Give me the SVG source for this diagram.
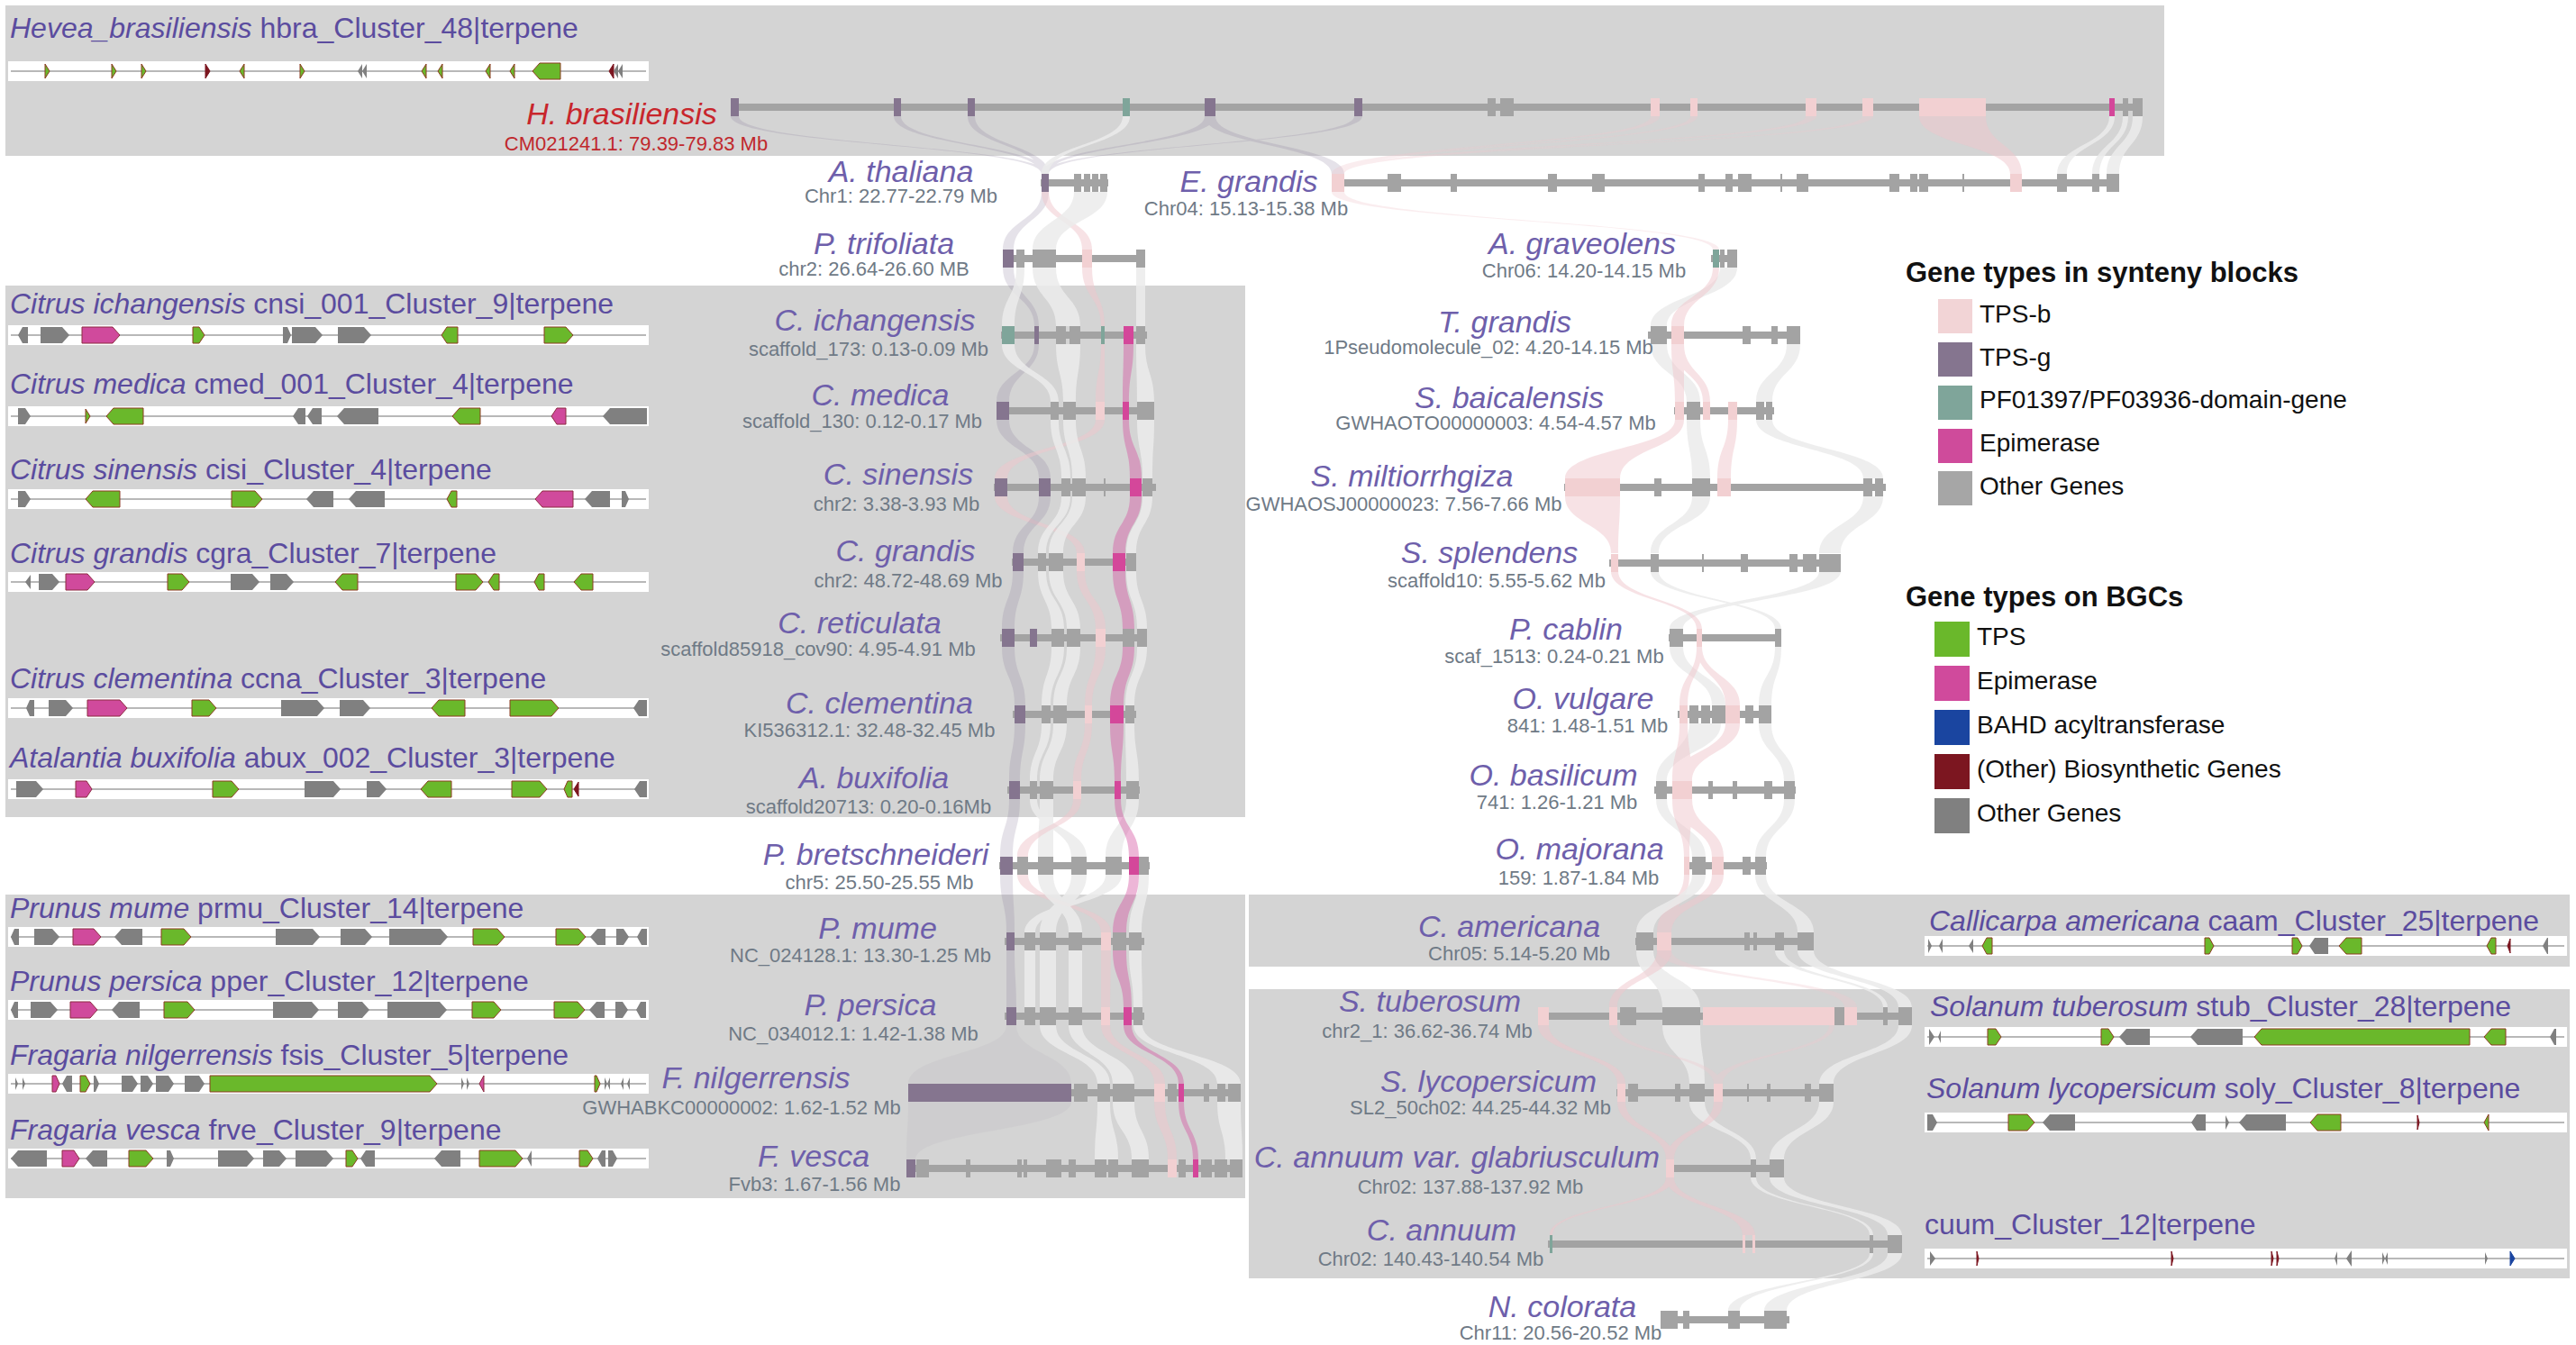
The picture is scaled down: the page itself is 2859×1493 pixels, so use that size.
<svg xmlns="http://www.w3.org/2000/svg" width="2859" height="1493" viewBox="0 0 2859 1493">
<style>
.bx{fill:#d4d4d4}
.st{fill:#fff}
.sl{stroke:#a0a0a0;stroke-width:1.5;fill:none}
.g{fill:#808080}
.t{fill:#6ab82b;stroke:#8c3b22;stroke-width:1}
.e{fill:#d04a9c;stroke:#8c2b40;stroke-width:1}
.b{fill:#7c1620;stroke:#7c1620;stroke-width:1}
.a{fill:#1a45a0;stroke:#1a45a0;stroke-width:1}
.tl{fill:#a3a3a3}
.k{fill:#f2d0d2}
.p{fill:#85758f}
.q{fill:#7fa59a}
.m{fill:#d4479a}
.rw{fill:#ebebeb;opacity:.85}
.rk{fill:#f0c6cc;opacity:.5}
.rkt{fill:#f0c6cc;opacity:.32}
.rp{fill:#8a7a9a;opacity:.22}
.rpf{fill:#8a7a9a;opacity:.08}
.rm{fill:#d4509f;opacity:.42}
text{font-family:"Liberation Sans",Arial,Helvetica,sans-serif}
.ti{font-size:32px;fill:#5b4c9f}
.sp{font-size:34px;font-style:italic;fill:#6e5fab;text-anchor:middle}
.spr{font-size:34px;font-style:italic;fill:#c8262c;text-anchor:middle}
.sb{font-size:22px;fill:#6f7a86;text-anchor:middle}
.sbr{font-size:22px;fill:#c0282d;text-anchor:middle}
.lh{font-size:31px;font-weight:bold;fill:#111}
.li{font-size:28px;fill:#111}
</style>
<rect width="2859" height="1493" fill="#fff"/>
<g id="backgrounds">
<rect class="bx" x="6" y="6" width="2396" height="167"/>
<rect class="bx" x="6" y="317" width="1376" height="590"/>
<rect class="bx" x="6" y="993" width="1376" height="337"/>
<rect class="bx" x="1386" y="993" width="1466" height="80"/>
<rect class="bx" x="1386" y="1098" width="1466" height="321"/>
</g>

<g id="bgc-hbra">
<text class="ti" x="11" y="42"><tspan font-style="italic">Hevea_brasiliensis</tspan> hbra_Cluster_48|terpene</text>
<g transform="translate(0,79)">
<rect class="st" x="9" y="-11" width="711" height="22"/><path class="sl" d="M12 0H717"/>
<path class="t" d="M50-8l5 8l-5 8z M124-8l5 8l-5 8z M157-8l5 8l-5 8z M271-8l-5 8l5 8z M333-8l5 8l-5 8z M473-8l-5 8l5 8z M491-8l-5 8l5 8z M544-8l-5 8l5 8z M571-8l-5 8l5 8z M622-9h-23l-8 9l8 9h23z"/>
<path class="b" d="M228-8l5 8l-5 8z M681-8l-5 8l5 8z"/>
<path class="g" d="M402-8l-5 8l5 8z M407-8l-5 8l5 8z M686-8l-5 8l5 8z M691-8l-5 8l5 8z"/>
</g></g>

<g id="bgc-cnsi">
<text class="ti" x="11" y="348"><tspan font-style="italic">Citrus ichangensis</tspan> cnsi_001_Cluster_9|terpene</text>
<g transform="translate(0,372)">
<rect class="st" x="9" y="-11" width="711" height="22"/><path class="sl" d="M12 0H717"/>
<path class="g" d="M31-9h-6l-5 9l5 9h6z M45-9h24l8 9l-8 9h-24z M314-9h5l4 9l-4 9h-5z M324-9h26l8 9l-8 9h-26z M375-9h29l8 9l-8 9h-29z"/>
<path class="e" d="M91-9h34l8 9l-8 9h-34z"/>
<path class="t" d="M214-9h7l6 9l-6 9h-7z M508-9h-12l-6 9l6 9h12z M604-9h24l8 9l-8 9h-24z"/>
</g></g>

<g id="bgc-cmed">
<text class="ti" x="11" y="437"><tspan font-style="italic">Citrus medica</tspan> cmed_001_Cluster_4|terpene</text>
<g transform="translate(0,462)">
<rect class="st" x="9" y="-11" width="711" height="22"/><path class="sl" d="M12 0H717"/>
<path class="g" d="M20-9h8l6 9l-6 9h-8z M339-9h-8l-6 9l6 9h8z M357-9h-10l-6 9l6 9h10z M420-9h-38l-8 9l8 9h38z M718-9h-41l-8 9l8 9h41z"/>
<path class="t" d="M95-8l5 8l-5 8z M159-9h-33l-8 9l8 9h33z M533-9h-23l-8 9l8 9h23z"/>
<path class="e" d="M628-9h-10l-6 9l6 9h10z"/>
</g></g>

<g id="bgc-cisi">
<text class="ti" x="11" y="532"><tspan font-style="italic">Citrus sinensis</tspan> cisi_Cluster_4|terpene</text>
<g transform="translate(0,554)">
<rect class="st" x="9" y="-11" width="711" height="22"/><path class="sl" d="M12 0H717"/>
<path class="g" d="M20-9h8l6 9l-6 9h-8z M370-9h-22l-8 9l8 9h22z M427-9h-32l-8 9l8 9h32z M677-9h-20l-8 9l8 9h20z M690-9h4l4 9l-4 9h-4z"/>
<path class="t" d="M133-9h-30l-8 9l8 9h30z M257-9h26l8 9l-8 9h-26z M507-9h-6l-5 9l5 9h6z"/>
<path class="e" d="M636-9h-34l-8 9l8 9h34z"/>
</g></g>

<g id="bgc-cgra">
<text class="ti" x="11" y="625"><tspan font-style="italic">Citrus grandis</tspan> cgra_Cluster_7|terpene</text>
<g transform="translate(0,646)">
<rect class="st" x="9" y="-11" width="711" height="22"/><path class="sl" d="M12 0H717"/>
<path class="g" d="M34-8l-6 8l6 8z M43-9h15l8 9l-8 9h-15z M256-9h24l8 9l-8 9h-24z M300-9h18l8 9l-8 9h-18z"/>
<path class="e" d="M73-9h24l8 9l-8 9h-24z"/>
<path class="t" d="M186-9h16l8 9l-8 9h-16z M397-9h-17l-8 9l8 9h17z M506-9h22l8 9l-8 9h-22z M554-9h-6l-6 9l6 9h6z M604-9h-6l-5 9l5 9h6z M658-9h-13l-8 9l8 9h13z"/>
</g></g>

<g id="bgc-ccna">
<text class="ti" x="11" y="764"><tspan font-style="italic">Citrus clementina</tspan> ccna_Cluster_3|terpene</text>
<g transform="translate(0,786)">
<rect class="st" x="9" y="-11" width="711" height="22"/><path class="sl" d="M12 0H717"/>
<path class="g" d="M38-9h-5l-4 9l4 9h5z M54-9h19l8 9l-8 9h-19z M312-9h40l8 9l-8 9h-40z M377-9h26l8 9l-8 9h-26z M718-9h-9l-6 9l6 9h9z"/>
<path class="e" d="M97-9h36l8 9l-8 9h-36z"/>
<path class="t" d="M213-9h19l8 9l-8 9h-19z M516-9h-29l-8 9l8 9h29z M566-9h46l8 9l-8 9h-46z"/>
</g></g>

<g id="bgc-abux">
<text class="ti" x="11" y="852"><tspan font-style="italic">Atalantia buxifolia</tspan> abux_002_Cluster_3|terpene</text>
<g transform="translate(0,876)">
<rect class="st" x="9" y="-11" width="711" height="22"/><path class="sl" d="M12 0H717"/>
<path class="g" d="M18-9h22l8 9l-8 9h-22z M338-9h32l8 9l-8 9h-32z M407-9h14l8 9l-8 9h-14z M718-9h-8l-6 9l6 9h8z"/>
<path class="e" d="M84-9h12l6 9l-6 9h-12z"/>
<path class="t" d="M236-9h21l8 9l-8 9h-21z M501-9h-26l-8 9l8 9h26z M568-9h31l8 9l-8 9h-31z M635-9h-5l-4 9l4 9h5z"/>
<path class="b" d="M642-8l-5 8l5 8z"/>
</g></g>

<g id="bgc-prmu">
<text class="ti" x="11" y="1019"><tspan font-style="italic">Prunus mume</tspan> prmu_Cluster_14|terpene</text>
<g transform="translate(0,1040)">
<rect class="st" x="9" y="-11" width="711" height="22"/><path class="sl" d="M12 0H717"/>
<path class="g" d="M21-9h-5l-4 9l4 9h5z M38-9h20l8 9l-8 9h-20z M158-9h-23l-8 9l8 9h23z M306-9h41l8 9l-8 9h-41z M378-9h27l8 9l-8 9h-27z M432-9h57l8 9l-8 9h-57z M672-9h-9l-8 9l8 9h9z M684-9h8l6 9l-6 9h-8z M718-9h-6l-5 9l5 9h6z"/>
<path class="e" d="M81-9h23l8 9l-8 9h-23z"/>
<path class="t" d="M179-9h25l8 9l-8 9h-25z M525-9h27l8 9l-8 9h-27z M617-9h25l8 9l-8 9h-25z"/>
</g></g>

<g id="bgc-pper">
<text class="ti" x="11" y="1100"><tspan font-style="italic">Prunus persica</tspan> pper_Cluster_12|terpene</text>
<g transform="translate(0,1121)">
<rect class="st" x="9" y="-11" width="711" height="22"/><path class="sl" d="M12 0H717"/>
<path class="g" d="M20-9h-4l-4 9l4 9h4z M34-9h22l8 9l-8 9h-22z M155-9h-23l-8 9l8 9h23z M303-9h43l8 9l-8 9h-43z M375-9h27l8 9l-8 9h-27z M430-9h58l8 9l-8 9h-58z M671-9h-9l-8 9l8 9h9z M683-9h8l6 9l-6 9h-8z M717-9h-6l-5 9l5 9h6z"/>
<path class="e" d="M78-9h22l8 9l-8 9h-22z"/>
<path class="t" d="M182-9h26l8 9l-8 9h-26z M524-9h24l8 9l-8 9h-24z M615-9h26l8 9l-8 9h-26z"/>
</g></g>

<g id="bgc-fsis">
<text class="ti" x="11" y="1182"><tspan font-style="italic">Fragaria nilgerrensis</tspan> fsis_Cluster_5|terpene</text>
<g transform="translate(0,1203)">
<rect class="st" x="9" y="-11" width="711" height="22"/><path class="sl" d="M12 0H717"/>
<path class="g" d="M17-7l3 7l-3 7z M25-7l3 7l-3 7z M80-9h-6l-5 9l5 9h6z M104-9h2l4 9l-4 9h-2z M135-9h12l6 9l-6 9h-12z M156-9h8l6 9l-6 9h-8z M173-9h14l6 9l-6 9h-14z M205-9h16l6 9l-6 9h-16z M512-7l3 7l-3 7z M518-7l3 7l-3 7z M671-7l3 7l-3 7z M677-7l-3 7l3 7z M692-7l-3 7l3 7z M699-7l-3 7l3 7z"/>
<path class="e" d="M58-9h4l4 9l-4 9h-4z M537-9l-5 9l5 9z"/>
<path class="t" d="M89-9h6l5 9l-5 9h-6z M233-9h244l8 9l-8 9h-244z M660-9h2l4 9l-4 9h-2z"/>
</g></g>

<g id="bgc-frve">
<text class="ti" x="11" y="1265"><tspan font-style="italic">Fragaria vesca</tspan> frve_Cluster_9|terpene</text>
<g transform="translate(0,1286)">
<rect class="st" x="9" y="-11" width="711" height="22"/><path class="sl" d="M12 0H717"/>
<path class="g" d="M52-9h-32l-8 9l8 9h32z M119-9h-16l-8 9l8 9h16z M185-9h4l4 9l-4 9h-4z M242-9h32l8 9l-8 9h-32z M292-9h18l8 9l-8 9h-18z M328-9h34l8 9l-8 9h-34z M416-9h-10l-6 9l6 9h10z M511-9h-21l-8 9l8 9h21z M590-9l-5 9l5 9z M672-9h-4l-5 9l5 9h4z M675-9h5l5 9l-5 9h-5z"/>
<path class="e" d="M69-9h13l6 9l-6 9h-13z"/>
<path class="t" d="M143-9h19l8 9l-8 9h-19z M384-9h7l6 9l-6 9h-7z M532-9h40l8 9l-8 9h-40z M643-9h9l6 9l-6 9h-9z"/>
</g></g>

<g id="bgc-caam">
<text class="ti" x="2141" y="1033"><tspan font-style="italic">Callicarpa americana</tspan> caam_Cluster_25|terpene</text>
<g transform="translate(0,1050)">
<rect class="st" x="2136" y="-11" width="713" height="22"/><path class="sl" d="M2139 0H2846"/>
<path class="g" d="M2140-8l4 8l-4 8z M2156-8l-4 8l4 8z M2190-8l-5 8l5 8z M2584-9h-15l-6 9l6 9h15z M2828-9h-1l-5 9l5 9h1z"/>
<path class="t" d="M2211-9h-6l-5 9l5 9h6z M2447-9h5l5 9l-5 9h-5z M2544-9h6l5 9l-5 9h-6z M2621-9h-17l-8 9l8 9h17z M2770-9h-5l-5 9l5 9h5z"/>
<path class="b" d="M2786-8l-3 8l3 8z"/>
</g></g>

<g id="bgc-stub">
<text class="ti" x="2142" y="1128"><tspan font-style="italic">Solanum tuberosum</tspan> stub_Cluster_28|terpene</text>
<g transform="translate(0,1151)">
<rect class="st" x="2136" y="-11" width="713" height="22"/><path class="sl" d="M2139 0H2846"/>
<path class="g" d="M2141-9l6 9l-6 9z M2154-7l-3 7l3 7z M2386-9h-26l-8 9l8 9h26z M2489-9h-50l-8 9l8 9h50z M2837-9h-2l-5 9l5 9h2z"/>
<path class="t" d="M2206-9h9l6 9l-6 9h-9z M2332-9h8l6 9l-6 9h-8z M2741-9h-231l-8 9l8 9h231z M2781-9h-16l-8 9l8 9h16z"/>
</g></g>

<g id="bgc-soly">
<text class="ti" x="2138" y="1219"><tspan font-style="italic">Solanum lycopersicum</tspan> soly_Cluster_8|terpene</text>
<g transform="translate(0,1246)">
<rect class="st" x="2136" y="-11" width="713" height="22"/><path class="sl" d="M2139 0H2846"/>
<path class="g" d="M2139-9h6l5 9l-5 9h-6z M2303-9h-28l-8 9l8 9h28z M2448-9h-10l-6 9l6 9h10z M2470-8l4 8l-4 8z M2537-9h-44l-8 9l8 9h44z"/>
<path class="t" d="M2229-9h21l8 9l-8 9h-21z M2598-9h-26l-8 9l8 9h26z M2762-9l-5 9l5 9z"/>
<path class="b" d="M2683-8l2 8l-2 8z"/>
</g></g>

<g id="bgc-cuum">
<text class="ti" x="2136" y="1370">cuum_Cluster_12|terpene</text>
<g transform="translate(0,1397)">
<rect class="st" x="2136" y="-11" width="713" height="22"/><path class="sl" d="M2139 0H2846"/>
<path class="g" d="M2142-8l6 8l-6 8z M2594-8l-3 8l3 8z M2610-9l-6 9l6 9z M2644-7l3 7l-3 7z M2650-7l-3 7l3 7z M2758-7l3 7l-3 7z"/>
<path class="b" d="M2194-8l2 8l-2 8z M2410-8l2 8l-2 8z M2521-8l2 8l-2 8z M2527-8l2 8l-2 8z"/>
<path class="a" d="M2786-8l5 8l-5 8z"/>
</g></g>

<g id="connectors">
<path class="rp" d="M811,129 C811,161 1156,161 1156,193 L1164,193 C1164,161 820,161 820,129Z M992,129 C992,161 1156,161 1156,193 L1164,193 C1164,161 1000,161 1000,129Z M1074,129 C1074,161 1156,161 1156,193 L1164,193 C1164,161 1082,161 1082,129Z M1337,129 C1337,161 1156,161 1156,193 L1164,193 C1164,161 1349,161 1349,129Z M1503,129 C1503,161 1156,161 1156,193 L1164,193 C1164,161 1512,161 1512,129Z M1337,129 C1337,161 1478,161 1478,193 L1492,193 C1492,161 1349,161 1349,129Z"/>
<path class="rw" d="M1246,129 C1246,161 1156,161 1156,193 L1164,193 C1164,161 1254,161 1254,129Z M2341,129 C2341,161 2283,161 2283,193 L2294,193 C2294,161 2347,161 2347,129Z M2356,129 C2356,161 2322,161 2322,193 L2330,193 C2330,161 2362,161 2362,129Z M2367,129 C2367,161 2338,161 2338,193 L2352,193 C2352,161 2378,161 2378,129Z"/>
<path class="rkt" d="M1832,129 C1832,161 1478,161 1478,193 L1492,193 C1492,161 1842,161 1842,129Z M1876,129 C1876,161 1478,161 1478,193 L1492,193 C1492,161 1884,161 1884,129Z M2004,129 C2004,161 1478,161 1478,193 L1492,193 C1492,161 2016,161 2016,129Z M2067,129 C2067,161 1478,161 1478,193 L1492,193 C1492,161 2079,161 2079,129Z"/>
<path class="rk" d="M2130,129 C2130,161 2231,161 2231,193 L2244,193 C2244,161 2204,161 2204,129Z"/>

<path class="rp" d="M1156,213 C1156,245 1113,245 1113,277 L1125,277 C1125,245 1164,245 1164,213Z"/>
<path class="rk" d="M1156,213 C1156,245 1201,245 1201,277 L1212,277 C1212,245 1164,245 1164,213Z"/>
<path class="rw" d="M1192,213 C1192,245 1146,245 1146,277 L1172,277 C1172,245 1229,245 1229,213Z"/>
<path class="rkt" d="M1478,213 C1478,245 1901,245 1901,277 L1908,277 C1908,245 1492,245 1492,213Z"/>

<path class="rp" d="M1113,297 C1113,330 1148,330 1148,362 L1153,362 C1153,330 1125,330 1125,297Z"/>
<path class="rw" d="M1128,297 C1128,330 1112,330 1112,362 L1126,362 C1126,330 1137,330 1137,297Z M1146,297 C1146,330 1172,330 1172,362 L1199,362 C1199,330 1172,330 1172,297Z M1261,297 L1261,362 L1271,362 L1271,297Z M1909,297 C1909,330 1832,330 1832,362 L1850,362 C1850,330 1928,330 1928,297Z"/>
<path class="rk" d="M1201,297 C1201,330 1222,330 1222,362 L1226,362 C1226,330 1212,330 1212,297Z M1901,297 C1901,330 1855,330 1855,362 L1869,362 C1869,330 1908,330 1908,297Z"/>

<path class="rp" d="M1148,382 C1148,414 1106,414 1106,446 L1120,446 C1120,414 1153,414 1153,382Z"/>
<path class="rw" d="M1112,382 C1112,414 1166,414 1166,446 L1175,446 C1175,414 1126,414 1126,382Z M1172,382 C1172,414 1180,414 1180,446 L1194,446 C1194,414 1199,414 1199,382Z M1261,382 C1261,414 1262,414 1262,446 L1281,446 C1281,414 1271,414 1271,382Z M1832,382 C1832,414 1872,414 1872,446 L1887,446 C1887,414 1850,414 1850,382Z M1983,382 C1983,414 1949,414 1949,446 L1967,446 C1967,414 1998,414 1998,382Z"/>
<path class="rk" d="M1222,382 C1222,414 1216,414 1216,446 L1226,446 C1226,414 1226,414 1226,382Z M1855,382 C1855,414 1859,414 1859,446 L1869,446 C1869,414 1869,414 1869,382Z M1855,382 C1855,414 1890,414 1890,446 L1898,446 C1898,414 1869,414 1869,382Z"/>
<path class="rm" d="M1247,382 C1247,414 1246,414 1246,446 L1253,446 C1253,414 1258,414 1258,382Z"/>

<path class="rp" d="M1106,466 C1106,498 1153,498 1153,531 L1166,531 C1166,498 1120,498 1120,466Z"/>
<path class="rk" d="M1216,466 C1216,498 1104,498 1104,531 L1118,531 C1118,498 1226,498 1226,466Z M1859,466 C1859,498 1737,498 1737,531 L1798,531 C1798,498 1869,498 1869,466Z M1918,466 C1918,498 1906,498 1906,531 L1921,531 C1921,498 1928,498 1928,466Z"/>
<path class="rw" d="M1166,466 C1166,498 1178,498 1178,531 L1188,531 C1188,498 1175,498 1175,466Z M1180,466 C1180,498 1190,498 1190,531 L1205,531 C1205,498 1194,498 1194,466Z M1262,466 C1262,498 1268,498 1268,531 L1279,531 C1279,498 1281,498 1281,466Z M1872,466 C1872,498 1878,498 1878,531 L1898,531 C1898,498 1887,498 1887,466Z M1949,466 C1949,498 2068,498 2068,531 L2090,531 C2090,498 1967,498 1967,466Z"/>
<path class="rm" d="M1246,466 C1246,498 1254,498 1254,531 L1267,531 C1267,498 1253,498 1253,466Z"/>

<path class="rk" d="M1104,551 C1104,582 1195,582 1195,614 L1204,614 C1204,582 1118,582 1118,551Z M1737,551 C1737,582 1788,582 1788,614 L1796,614 C1796,582 1798,582 1798,551Z"/>
<path class="rp" d="M1153,551 C1153,582 1124,582 1124,614 L1136,614 C1136,582 1166,582 1166,551Z"/>
<path class="rw" d="M1178,551 C1178,582 1152,582 1152,614 L1161,614 C1161,582 1188,582 1188,551Z M1190,551 C1190,582 1164,582 1164,614 L1180,614 C1180,582 1205,582 1205,551Z M1268,551 C1268,582 1250,582 1250,614 L1261,614 C1261,582 1279,582 1279,551Z M1878,551 C1878,582 1832,582 1832,614 L1841,614 C1841,582 1898,582 1898,551Z M2068,551 C2068,582 2019,582 2019,614 L2043,614 C2043,582 2090,582 2090,551Z"/>
<path class="rm" d="M1254,551 C1254,582 1235,582 1235,614 L1249,614 C1249,582 1267,582 1267,551Z"/>

<path class="rp" d="M1124,634 C1124,666 1112,666 1112,698 L1126,698 C1126,666 1136,666 1136,634Z"/>
<path class="rw" d="M1152,634 C1152,666 1167,666 1167,698 L1181,698 C1181,666 1161,666 1161,634Z M1164,634 C1164,666 1184,666 1184,698 L1199,698 C1199,666 1180,666 1180,634Z M1250,634 C1250,666 1262,666 1262,698 L1273,698 C1273,666 1261,666 1261,634Z M1832,634 C1832,666 1970,666 1970,698 L1977,698 C1977,666 1841,666 1841,634Z M2019,634 C2019,666 1853,666 1853,698 L1868,698 C1868,666 2043,666 2043,634Z"/>
<path class="rk" d="M1195,634 C1195,666 1216,666 1216,698 L1227,698 C1227,666 1204,666 1204,634Z M1788,634 C1788,666 1883,666 1883,698 L1889,698 C1889,666 1796,666 1796,634Z"/>
<path class="rm" d="M1235,634 C1235,666 1246,666 1246,698 L1259,698 C1259,666 1249,666 1249,634Z"/>

<path class="rp" d="M1112,718 C1112,750 1126,750 1126,783 L1138,783 C1138,750 1126,750 1126,718Z"/>
<path class="rw" d="M1167,718 C1167,750 1156,750 1156,783 L1166,783 C1166,750 1181,750 1181,718Z M1184,718 C1184,750 1169,750 1169,783 L1184,783 C1184,750 1199,750 1199,718Z M1262,718 C1262,750 1249,750 1249,783 L1259,783 C1259,750 1273,750 1273,718Z M1853,718 C1853,750 1900,750 1900,783 L1915,783 C1915,750 1868,750 1868,718Z M1970,718 C1970,750 1952,750 1952,783 L1966,783 C1966,750 1977,750 1977,718Z"/>
<path class="rk" d="M1216,718 C1216,750 1204,750 1204,783 L1212,783 C1212,750 1227,750 1227,718Z M1883,718 C1883,750 1864,750 1864,783 L1873,783 C1873,750 1889,750 1889,718Z M1883,718 C1883,750 1915,750 1915,783 L1931,783 C1931,750 1889,750 1889,718Z"/>
<path class="rm" d="M1246,718 C1246,750 1232,750 1232,783 L1247,783 C1247,750 1259,750 1259,718Z"/>

<path class="rp" d="M1126,803 C1126,835 1120,835 1120,867 L1132,867 C1132,835 1138,835 1138,803Z"/>
<path class="rw" d="M1156,803 C1156,835 1143,835 1143,867 L1151,867 C1151,835 1166,835 1166,803Z M1169,803 C1169,835 1154,835 1154,867 L1169,867 C1169,835 1184,835 1184,803Z M1249,803 C1249,835 1250,835 1250,867 L1264,867 C1264,835 1259,835 1259,803Z M1875,803 C1875,835 1838,835 1838,867 L1850,867 C1850,835 1910,835 1910,803Z M1952,803 C1952,835 1980,835 1980,867 L1992,867 C1992,835 1966,835 1966,803Z"/>
<path class="rk" d="M1204,803 C1204,835 1191,835 1191,867 L1200,867 C1200,835 1212,835 1212,803Z M1864,803 C1864,835 1856,835 1856,867 L1878,867 C1878,835 1873,835 1873,803Z M1915,803 C1915,835 1856,835 1856,867 L1878,867 C1878,835 1931,835 1931,803Z"/>
<path class="rm" d="M1232,803 C1232,835 1237,835 1237,867 L1244,867 C1244,835 1247,835 1247,803Z"/>

<path class="rp" d="M1120,887 C1120,919 1110,919 1110,951 L1124,951 C1124,919 1132,919 1132,887Z"/>
<path class="rw" d="M1143,887 C1143,919 1189,919 1189,951 L1206,951 C1206,919 1151,919 1151,887Z M1154,887 C1154,919 1152,919 1152,951 L1169,951 C1169,919 1169,919 1169,887Z M1250,887 C1250,919 1227,919 1227,951 L1245,951 C1245,919 1264,919 1264,887Z M1838,887 C1838,919 1878,919 1878,951 L1893,951 C1893,919 1850,919 1850,887Z M1980,887 C1980,919 1948,919 1948,951 L1960,951 C1960,919 1992,919 1992,887Z"/>
<path class="rk" d="M1191,887 C1191,919 1129,919 1129,951 L1141,951 C1141,919 1200,919 1200,887Z M1856,887 C1856,919 1900,919 1900,951 L1913,951 C1913,919 1878,919 1878,887Z M1856,887 C1856,919 1869,919 1869,951 L1875,951 C1875,919 1878,919 1878,887Z"/>
<path class="rm" d="M1237,887 C1237,919 1253,919 1253,951 L1264,951 C1264,919 1244,919 1244,887Z"/>

<path class="rp" d="M1110,971 C1110,1003 1117,1003 1117,1035 L1126,1035 C1126,1003 1124,1003 1124,971Z"/>
<path class="rk" d="M1129,971 C1129,1003 1222,1003 1222,1035 L1233,1035 C1233,1003 1141,1003 1141,971Z M1900,971 C1900,1003 1839,1003 1839,1035 L1855,1035 C1855,1003 1913,1003 1913,971Z M1869,971 C1869,1003 1839,1003 1839,1035 L1855,1035 C1855,1003 1875,1003 1875,971Z"/>
<path class="rw" d="M1152,971 C1152,1003 1186,1003 1186,1035 L1201,1035 C1201,1003 1169,1003 1169,971Z M1189,971 C1189,1003 1154,1003 1154,1035 L1172,1035 C1172,1003 1206,1003 1206,971Z M1227,971 C1227,1003 1137,1003 1137,1035 L1149,1035 C1149,1003 1245,1003 1245,971Z M1264,971 C1264,1003 1253,1003 1253,1035 L1267,1035 C1267,1003 1275,1003 1275,971Z M1878,971 C1878,1003 1816,1003 1816,1035 L1835,1035 C1835,1003 1893,1003 1893,971Z M1948,971 C1948,1003 1995,1003 1995,1035 L2013,1035 C2013,1003 1960,1003 1960,971Z"/>
<path class="rm" d="M1253,971 C1253,1003 1235,1003 1235,1035 L1250,1035 C1250,1003 1264,1003 1264,971Z"/>

<path class="rp" d="M1117,1055 L1117,1118 L1128,1118 C1128,1086 1126,1086 1126,1055Z"/>
<path class="rw" d="M1137,1055 L1137,1118 L1149,1118 L1149,1055Z M1154,1055 L1154,1118 L1172,1118 L1172,1055Z M1186,1055 L1186,1118 L1201,1118 L1201,1055Z M1253,1055 C1253,1086 1258,1086 1258,1118 L1268,1118 C1268,1086 1267,1086 1267,1055Z M1816,1055 C1816,1086 1845,1086 1845,1118 L1887,1118 C1887,1086 1835,1086 1835,1055Z M1995,1055 C1995,1086 2107,1086 2107,1118 L2122,1118 C2122,1086 2013,1086 2013,1055Z M1970,1055 C1970,1086 2090,1086 2090,1118 L2095,1118 C2095,1086 1980,1086 1980,1055Z"/>
<path class="rk" d="M1222,1055 L1222,1118 L1232,1118 L1233,1055Z M1839,1055 C1839,1086 1786,1086 1786,1118 L1795,1118 C1795,1086 1855,1086 1855,1055Z"/>
<path class="rkt" d="M1839,1055 C1839,1086 2047,1086 2047,1118 L2061,1118 C2061,1086 1855,1086 1855,1055Z"/>
<path class="rm" d="M1235,1055 C1235,1086 1247,1086 1247,1118 L1256,1118 C1256,1086 1250,1086 1250,1055Z"/>

<path class="rpf" d="M1117,1138 C1117,1170 1008,1170 1008,1203 L1189,1203 C1189,1170 1128,1170 1128,1138Z"/>
<path class="rw" d="M1154,1138 C1154,1170 1218,1170 1218,1203 L1232,1203 C1232,1170 1172,1170 1172,1138Z M1186,1138 C1186,1170 1235,1170 1235,1203 L1259,1203 C1259,1170 1201,1170 1201,1138Z M1258,1138 C1258,1170 1351,1170 1351,1203 L1377,1203 C1377,1170 1268,1170 1268,1138Z M1845,1138 C1845,1170 1875,1170 1875,1203 L1892,1203 C1892,1170 1887,1170 1887,1138Z M2107,1138 C2107,1170 2019,1170 2019,1203 L2035,1203 C2035,1170 2122,1170 2122,1138Z"/>
<path class="rk" d="M1222,1138 C1222,1170 1281,1170 1281,1203 L1293,1203 C1293,1170 1232,1170 1232,1138Z M1707,1138 C1707,1170 1795,1170 1795,1203 L1804,1203 C1804,1170 1719,1170 1719,1138Z"/>
<path class="rkt" d="M2030,1138 C2030,1170 1902,1170 1902,1203 L1912,1203 C1912,1170 2036,1170 2036,1138Z M1786,1138 C1786,1170 1902,1170 1902,1203 L1910,1203 C1910,1170 1795,1170 1795,1138Z"/>
<path class="rm" d="M1247,1138 C1247,1170 1308,1170 1308,1203 L1314,1203 C1314,1170 1256,1170 1256,1138Z"/>

<path class="rpf" d="M1008,1223 C1008,1255 1006,1255 1006,1287 L1016,1287 C1016,1255 1189,1255 1189,1223Z"/>
<path class="rw" d="M1218,1223 C1218,1255 1215,1255 1215,1287 L1241,1287 C1241,1255 1232,1255 1232,1223Z M1235,1223 C1235,1255 1256,1255 1256,1287 L1275,1287 C1275,1255 1259,1255 1259,1223Z M1351,1223 C1351,1255 1360,1255 1360,1287 L1379,1287 C1379,1255 1377,1255 1377,1223Z M1875,1223 C1875,1255 1943,1255 1943,1287 L1949,1287 C1949,1255 1892,1255 1892,1223Z M2019,1223 C2019,1255 1964,1255 1964,1287 L1980,1287 C1980,1255 2035,1255 2035,1223Z"/>
<path class="rk" d="M1281,1223 C1281,1255 1296,1255 1296,1287 L1306,1287 C1306,1255 1293,1255 1293,1223Z M1795,1223 C1795,1255 1849,1255 1849,1287 L1858,1287 C1858,1255 1804,1255 1804,1223Z M1902,1223 C1902,1255 1849,1255 1849,1287 L1858,1287 C1858,1255 1912,1255 1912,1223Z"/>
<path class="rm" d="M1308,1223 C1308,1255 1324,1255 1324,1287 L1330,1287 C1330,1255 1314,1255 1314,1223Z"/>

<path class="rk" d="M1849,1307 C1849,1339 1720,1339 1720,1371 L1723,1371 C1723,1339 1858,1339 1858,1307Z M1849,1307 C1849,1339 1934,1339 1934,1371 L1948,1371 C1948,1339 1858,1339 1858,1307Z"/>
<path class="rw" d="M1964,1307 C1964,1339 2095,1339 2095,1371 L2111,1371 C2111,1339 1980,1339 1980,1307Z M1943,1307 C1943,1339 2075,1339 2075,1371 L2079,1371 C2079,1339 1949,1339 1949,1307Z M2095,1391 C2095,1423 1958,1423 1958,1455 L1983,1455 C1983,1423 2111,1423 2111,1391Z M2075,1391 C2075,1423 1918,1423 1918,1455 L1931,1455 C1931,1423 2079,1423 2079,1391Z"/>
</g>

<g id="trk-hbra" transform="translate(0,119)">
<path class="tl" d="M811-4h1567v8h-1567z"/>
<path class="p" d="M811-10h9v20h-9z M992-10h8v20h-8z M1074-10h8v20h-8z M1337-10h12v20h-12z M1503-10h9v20h-9z"/>
<path class="q" d="M1246-10h8v20h-8z"/>
<path class="tl" d="M1651-10h9v20h-9z M1665-10h15v20h-15z M2356-10h6v20h-6z M2367-10h11v20h-11z"/>
<path class="k" d="M1832-10h10v20h-10z M1876-10h8v20h-8z M2004-10h12v20h-12z M2067-10h12v20h-12z M2130-10h74v20h-74z"/>
<path class="m" d="M2341-10h6v20h-6z"/>
</g>
<g id="trk-athal" transform="translate(0,203)">
<path class="tl" d="M1155-4h75v8h-75z M1192-10h8v20h-8z M1203-10h7v20h-7z M1212-10h7v20h-7z M1221-10h8v20h-8z"/>
<path class="p" d="M1156-10h8v20h-8z"/>
</g>
<g id="trk-egra" transform="translate(0,203)">
<path class="tl" d="M1478-4h874v8h-874z M1540-10h15v20h-15z M1610-10h7v20h-7z M1718-10h10v20h-10z M1767-10h14v20h-14z M1885-10h7v20h-7z M1915-10h8v20h-8z M1929-10h15v20h-15z M1976-10h2v20h-2z M1994-10h13v20h-13z M2097-10h11v20h-11z M2120-10h8v20h-8z M2130-10h10v20h-10z M2178-10h2v20h-2z M2283-10h11v20h-11z M2322-10h8v20h-8z M2338-10h14v20h-14z"/>
<path class="k" d="M1478-10h14v20h-14z M2231-10h13v20h-13z"/>
</g>
<g id="trk-ptri" transform="translate(0,287)">
<path class="tl" d="M1113-4h158v8h-158z M1128-10h9v20h-9z M1146-10h26v20h-26z M1261-10h10v20h-10z"/>
<path class="p" d="M1113-10h12v20h-12z"/><path class="k" d="M1201-10h11v20h-11z"/>
</g>
<g id="trk-cich" transform="translate(0,372)">
<path class="tl" d="M1111-4h162v8h-162z M1172-10h11v20h-11z M1187-10h12v20h-12z M1261-10h10v20h-10z"/>
<path class="q" d="M1112-10h14v20h-14z M1222-10h4v20h-4z"/><path class="p" d="M1148-10h5v20h-5z"/><path class="m" d="M1247-10h11v20h-11z"/>
</g>
<g id="trk-cmed" transform="translate(0,456)">
<path class="tl" d="M1106-4h175v8h-175z M1166-10h9v20h-9z M1180-10h14v20h-14z M1262-10h19v20h-19z"/>
<path class="p" d="M1106-10h14v20h-14z"/><path class="k" d="M1216-10h10v20h-10z"/><path class="m" d="M1246-10h7v20h-7z"/>
</g>
<g id="trk-csin" transform="translate(0,541)">
<path class="tl" d="M1103-4h180v8h-180z M1178-10h10v20h-10z M1190-10h15v20h-15z M1225-10h2v20h-2z M1268-10h11v20h-11z"/>
<path class="p" d="M1104-10h14v20h-14z M1153-10h13v20h-13z"/><path class="m" d="M1254-10h13v20h-13z"/>
</g>
<g id="trk-cgra" transform="translate(0,624)">
<path class="tl" d="M1123-4h138v8h-138z M1152-10h9v20h-9z M1164-10h16v20h-16z M1250-10h11v20h-11z"/>
<path class="p" d="M1124-10h12v20h-12z"/><path class="k" d="M1195-10h9v20h-9z"/><path class="m" d="M1235-10h14v20h-14z"/>
</g>
<g id="trk-cret" transform="translate(0,708)">
<path class="tl" d="M1110-4h163v8h-163z M1167-10h14v20h-14z M1184-10h15v20h-15z M1246-10h13v20h-13z M1262-10h11v20h-11z"/>
<path class="p" d="M1112-10h14v20h-14z M1143-10h8v20h-8z"/><path class="k" d="M1216-10h11v20h-11z"/>
</g>
<g id="trk-ccle" transform="translate(0,793)">
<path class="tl" d="M1124-4h137v8h-137z M1156-10h10v20h-10z M1169-10h15v20h-15z M1249-10h10v20h-10z"/>
<path class="p" d="M1126-10h12v20h-12z"/><path class="k" d="M1204-10h8v20h-8z"/><path class="m" d="M1232-10h15v20h-15z"/>
</g>
<g id="trk-abux" transform="translate(0,877)">
<path class="tl" d="M1118-4h147v8h-147z M1143-10h8v20h-8z M1154-10h15v20h-15z M1250-10h14v20h-14z"/>
<path class="p" d="M1120-10h12v20h-12z"/><path class="k" d="M1191-10h9v20h-9z"/><path class="m" d="M1237-10h7v20h-7z"/>
</g>
<g id="trk-pbre" transform="translate(0,961)">
<path class="tl" d="M1109-4h167v8h-167z M1129-10h12v20h-12z M1152-10h17v20h-17z M1189-10h17v20h-17z M1227-10h18v20h-18z M1264-10h11v20h-11z"/>
<path class="p" d="M1110-10h14v20h-14z"/><path class="m" d="M1253-10h11v20h-11z"/>
</g>
<g id="trk-pmum" transform="translate(0,1045)">
<path class="tl" d="M1115-4h155v8h-155z M1137-10h12v20h-12z M1154-10h18v20h-18z M1186-10h15v20h-15z M1235-10h15v20h-15z M1253-10h14v20h-14z"/>
<path class="p" d="M1117-10h9v20h-9z"/><path class="k" d="M1222-10h11v20h-11z"/>
</g>
<g id="trk-pper" transform="translate(0,1128)">
<path class="tl" d="M1115-4h155v8h-155z M1137-10h12v20h-12z M1154-10h18v20h-18z M1186-10h15v20h-15z M1258-10h10v20h-10z"/>
<path class="p" d="M1117-10h11v20h-11z"/><path class="k" d="M1222-10h10v20h-10z"/><path class="m" d="M1247-10h9v20h-9z"/>
</g>
<g id="trk-fnil" transform="translate(0,1213)">
<path class="tl" d="M1008-4h369v8h-369z M1192-10h15v20h-15z M1218-10h14v20h-14z M1235-10h24v20h-24z M1296-10h10v20h-10z M1336-10h6v20h-6z M1351-10h9v20h-9z M1363-10h14v20h-14z"/>
<path class="p" d="M1008-10h181v20h-181z"/><path class="k" d="M1281-10h12v20h-12z"/><path class="m" d="M1308-10h6v20h-6z"/>
</g>
<g id="trk-fves" transform="translate(0,1297)">
<path class="tl" d="M1006-4h373v8h-373z M1017-10h14v20h-14z M1072-10h5v20h-5z M1129-10h5v20h-5z M1136-10h4v20h-4z M1161-10h17v20h-17z M1186-10h8v20h-8z M1215-10h13v20h-13z M1230-10h11v20h-11z M1256-10h19v20h-19z M1308-10h8v20h-8z M1333-10h12v20h-12z M1348-10h14v20h-14z M1365-10h14v20h-14z"/>
<path class="p" d="M1006-10h10v20h-10z"/><path class="k" d="M1296-10h10v20h-10z"/><path class="m" d="M1324-10h6v20h-6z"/>
</g>
<g id="trk-agra" transform="translate(0,287)">
<path class="tl" d="M1899-4h29v8h-29z M1909-10h5v20h-5z M1917-10h11v20h-11z"/><path class="q" d="M1901-10h7v20h-7z"/>
</g>
<g id="trk-tgra" transform="translate(0,372)">
<path class="tl" d="M1829-4h169v8h-169z M1832-10h18v20h-18z M1934-10h9v20h-9z M1966-10h7v20h-7z M1983-10h15v20h-15z"/><path class="k" d="M1855-10h14v20h-14z"/>
</g>
<g id="trk-sbai" transform="translate(0,456)">
<path class="tl" d="M1858-4h111v8h-111z M1872-10h15v20h-15z M1949-10h9v20h-9z M1960-10h7v20h-7z"/><path class="k" d="M1859-10h10v20h-10z M1890-10h8v20h-8z M1918-10h10v20h-10z"/>
</g>
<g id="trk-smil" transform="translate(0,541)">
<path class="tl" d="M1736-4h357v8h-357z M1836-10h8v20h-8z M1878-10h20v20h-20z M2068-10h10v20h-10z M2081-10h9v20h-9z"/><path class="k" d="M1737-10h61v20h-61z M1906-10h15v20h-15z"/>
</g>
<g id="trk-sspl" transform="translate(0,625)">
<path class="tl" d="M1786-4h257v8h-257z M1832-10h9v20h-9z M1889-10h2v20h-2z M1932-10h8v20h-8z M1986-10h9v20h-9z M2001-10h15v20h-15z M2019-10h24v20h-24z"/><path class="k" d="M1788-10h8v20h-8z"/>
</g>
<g id="trk-pcab" transform="translate(0,708)">
<path class="tl" d="M1852-4h125v8h-125z M1853-10h15v20h-15z M1970-10h7v20h-7z"/><path class="k" d="M1883-10h6v20h-6z"/>
</g>
<g id="trk-ovul" transform="translate(0,793)">
<path class="tl" d="M1862-4h104v8h-104z M1875-10h10v20h-10z M1888-10h10v20h-10z M1900-10h15v20h-15z M1937-10h9v20h-9z M1952-10h14v20h-14z"/><path class="k" d="M1864-10h9v20h-9z M1915-10h16v20h-16z"/>
</g>
<g id="trk-obas" transform="translate(0,877)">
<path class="tl" d="M1836-4h157v8h-157z M1838-10h12v20h-12z M1896-10h5v20h-5z M1923-10h5v20h-5z M1958-10h9v20h-9z M1980-10h12v20h-12z"/><path class="k" d="M1856-10h22v20h-22z"/>
</g>
<g id="trk-omaj" transform="translate(0,961)">
<path class="tl" d="M1869-4h92v8h-92z M1878-10h15v20h-15z M1934-10h9v20h-9z M1948-10h12v20h-12z"/><path class="k" d="M1869-10h6v20h-6z M1900-10h13v20h-13z"/>
</g>
<g id="trk-came" transform="translate(0,1045)">
<path class="tl" d="M1815-4h198v8h-198z M1816-10h19v20h-19z M1936-10h6v20h-6z M1946-10h4v20h-4z M1970-10h10v20h-10z M1995-10h18v20h-18z"/><path class="k" d="M1839-10h16v20h-16z"/>
</g>
<g id="trk-stub" transform="translate(0,1128)">
<path class="tl" d="M1707-4h415v8h-415z M1798-10h18v20h-18z M1845-10h42v20h-42z M2036-10h11v20h-11z M2090-10h5v20h-5z M2107-10h15v20h-15z"/><path class="k" d="M1707-10h12v20h-12z M1786-10h9v20h-9z M1890-10h146v20h-146z M2047-10h14v20h-14z"/>
</g>
<g id="trk-slyc" transform="translate(0,1213)">
<path class="tl" d="M1794-4h241v8h-241z M1807-10h11v20h-11z M1859-10h6v20h-6z M1875-10h17v20h-17z M1939-10h2v20h-2z M1961-10h4v20h-4z M2003-10h7v20h-7z M2019-10h16v20h-16z"/><path class="k" d="M1795-10h9v20h-9z M1902-10h10v20h-10z"/>
</g>
<g id="trk-cvar" transform="translate(0,1297)">
<path class="tl" d="M1849-4h131v8h-131z M1943-10h6v20h-6z M1964-10h16v20h-16z"/><path class="k" d="M1849-10h9v20h-9z"/>
</g>
<g id="trk-cann" transform="translate(0,1381)">
<path class="tl" d="M1718-4h393v8h-393z M2075-10h4v20h-4z M2095-10h16v20h-16z"/><path class="q" d="M1720-10h3v20h-3z"/><path class="k" d="M1934-10h3v20h-3z M1945-10h3v20h-3z"/>
</g>
<g id="trk-ncol" transform="translate(0,1465)">
<path class="tl" d="M1843-4h143v8h-143z M1843-10h19v20h-19z M1868-10h7v20h-7z M1918-10h13v20h-13z M1958-10h25v20h-25z"/>
</g>

<g id="labels">
<text class="spr" x="690" y="138">H. brasiliensis</text><text class="sbr" x="706" y="167">CM021241.1: 79.39-79.83 Mb</text>
<text class="sp" x="1000" y="202">A. thaliana</text><text class="sb" x="1000" y="225">Chr1: 22.77-22.79 Mb</text>
<text class="sp" x="1386" y="213">E. grandis</text><text class="sb" x="1383" y="239">Chr04: 15.13-15.38 Mb</text>
<text class="sp" x="981" y="282">P. trifoliata</text><text class="sb" x="970" y="306">chr2: 26.64-26.60 MB</text>
<text class="sp" x="971" y="367">C. ichangensis</text><text class="sb" x="964" y="395">scaffold_173: 0.13-0.09 Mb</text>
<text class="sp" x="977" y="450">C. medica</text><text class="sb" x="957" y="475">scaffold_130: 0.12-0.17 Mb</text>
<text class="sp" x="997" y="538">C. sinensis</text><text class="sb" x="995" y="567">chr2: 3.38-3.93 Mb</text>
<text class="sp" x="1005" y="623">C. grandis</text><text class="sb" x="1008" y="652">chr2: 48.72-48.69 Mb</text>
<text class="sp" x="954" y="703">C. reticulata</text><text class="sb" x="908" y="728">scaffold85918_cov90: 4.95-4.91 Mb</text>
<text class="sp" x="976" y="792">C. clementina</text><text class="sb" x="965" y="818">KI536312.1: 32.48-32.45 Mb</text>
<text class="sp" x="970" y="875">A. buxifolia</text><text class="sb" x="964" y="903">scaffold20713: 0.20-0.16Mb</text>
<text class="sp" x="972" y="960">P. bretschneideri</text><text class="sb" x="976" y="987">chr5: 25.50-25.55 Mb</text>
<text class="sp" x="974" y="1042">P. mume</text><text class="sb" x="955" y="1068">NC_024128.1: 13.30-1.25 Mb</text>
<text class="sp" x="966" y="1127">P. persica</text><text class="sb" x="947" y="1155">NC_034012.1: 1.42-1.38 Mb</text>
<text class="sp" x="839" y="1208">F. nilgerrensis</text><text class="sb" x="823" y="1237">GWHABKC00000002: 1.62-1.52 Mb</text>
<text class="sp" x="903" y="1295">F. vesca</text><text class="sb" x="904" y="1322">Fvb3: 1.67-1.56 Mb</text>
<text class="sp" x="1756" y="282">A. graveolens</text><text class="sb" x="1758" y="308">Chr06: 14.20-14.15 Mb</text>
<text class="sp" x="1670" y="369">T. grandis</text><text class="sb" x="1652" y="393">1Pseudomolecule_02: 4.20-14.15 Mb</text>
<text class="sp" x="1675" y="453">S. baicalensis</text><text class="sb" x="1660" y="477">GWHAOTO00000003: 4.54-4.57 Mb</text>
<text class="sp" x="1567" y="540">S. miltiorrhgiza</text><text class="sb" x="1558" y="567">GWHAOSJ00000023: 7.56-7.66 Mb</text>
<text class="sp" x="1653" y="625">S. splendens</text><text class="sb" x="1661" y="652">scaffold10: 5.55-5.62 Mb</text>
<text class="sp" x="1738" y="710">P. cablin</text><text class="sb" x="1725" y="736">scaf_1513: 0.24-0.21 Mb</text>
<text class="sp" x="1757" y="787">O. vulgare</text><text class="sb" x="1762" y="813">841: 1.48-1.51 Mb</text>
<text class="sp" x="1724" y="872">O. basilicum</text><text class="sb" x="1728" y="898">741: 1.26-1.21 Mb</text>
<text class="sp" x="1753" y="954">O. majorana</text><text class="sb" x="1752" y="982">159: 1.87-1.84 Mb</text>
<text class="sp" x="1675" y="1040">C. americana</text><text class="sb" x="1686" y="1066">Chr05: 5.14-5.20 Mb</text>
<text class="sp" x="1587" y="1123">S. tuberosum</text><text class="sb" x="1584" y="1152">chr2_1: 36.62-36.74 Mb</text>
<text class="sp" x="1652" y="1212">S. lycopersicum</text><text class="sb" x="1643" y="1237">SL2_50ch02: 44.25-44.32 Mb</text>
<text class="sp" x="1617" y="1296">C. annuum var. glabriusculum</text><text class="sb" x="1632" y="1325">Chr02: 137.88-137.92 Mb</text>
<text class="sp" x="1600" y="1377">C. annuum</text><text class="sb" x="1588" y="1405">Chr02: 140.43-140.54 Mb</text>
<text class="sp" x="1734" y="1462">N. colorata</text><text class="sb" x="1732" y="1487">Chr11: 20.56-20.52 Mb</text>
</g>

<g id="legend-synteny">
<text class="lh" x="2115" y="313">Gene types in synteny blocks</text>
<rect x="2151" y="332" width="38" height="38" fill="#f2d4d6"/><text class="li" x="2197" y="358">TPS-b</text>
<rect x="2151" y="380" width="38" height="38" fill="#85758f"/><text class="li" x="2197" y="406">TPS-g</text>
<rect x="2151" y="428" width="38" height="38" fill="#7fa59a"/><text class="li" x="2197" y="453">PF01397/PF03936-domain-gene</text>
<rect x="2151" y="476" width="38" height="38" fill="#cf4b9b"/><text class="li" x="2197" y="501">Epimerase</text>
<rect x="2151" y="523" width="38" height="38" fill="#a6a6a6"/><text class="li" x="2197" y="549">Other Genes</text>
</g>
<g id="legend-bgc">
<text class="lh" x="2115" y="673">Gene types on BGCs</text>
<rect x="2147" y="690" width="39" height="39" fill="#6ab82b"/><text class="li" x="2194" y="716">TPS</text>
<rect x="2147" y="739" width="39" height="39" fill="#d04a9c"/><text class="li" x="2194" y="765">Epimerase</text>
<rect x="2147" y="788" width="39" height="39" fill="#1a45a0"/><text class="li" x="2194" y="814">BAHD acyltransferase</text>
<rect x="2147" y="837" width="39" height="39" fill="#7c1620"/><text class="li" x="2194" y="863">(Other) Biosynthetic Genes</text>
<rect x="2147" y="886" width="39" height="39" fill="#808080"/><text class="li" x="2194" y="912">Other Genes</text>
</g>
</svg>
